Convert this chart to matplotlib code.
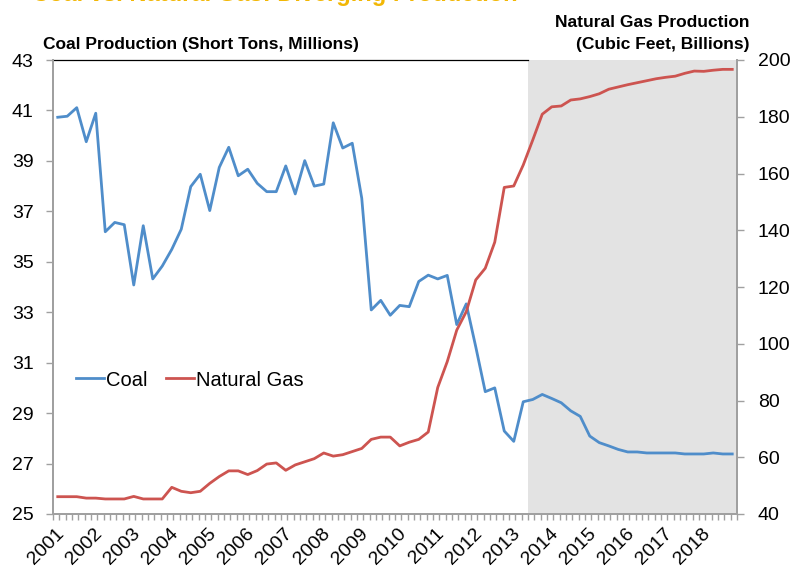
import matplotlib
matplotlib.use("Agg")
import matplotlib.pyplot as plt
import matplotlib.transforms as mtransforms
import numpy as np

plt.rcParams['font.family'] = ['Liberation Sans', 'DejaVu Sans']

years = [str(y) for y in range(2001, 2019)]
coal = [40.73, 40.77, 41.11, 39.76, 40.89, 36.19, 36.56, 36.47, 34.08, 36.43,
        34.32, 34.83, 35.49, 36.29, 37.98, 38.47, 37.03, 38.74, 39.54, 38.41,
        38.67, 38.11, 37.78, 37.78, 38.80, 37.69, 39.01, 38.00, 38.08, 40.51,
        39.51, 39.70, 37.52, 33.09, 33.47, 32.88, 33.27, 33.22, 34.22, 34.47,
        34.32, 34.46, 32.51, 33.33, 31.63, 29.85, 30.00, 28.29, 27.88, 29.45,
        29.54, 29.74, 29.58, 29.41, 29.09, 28.87, 28.09, 27.83, 27.70, 27.56,
        27.46, 27.46, 27.42, 27.42, 27.42, 27.42, 27.38, 27.38, 27.38, 27.42,
        27.38, 27.38]
gas = [46.1, 46.1, 46.1, 45.6, 45.6, 45.3, 45.3, 45.3, 46.2, 45.3,
       45.3, 45.3, 49.4, 48.0, 47.5, 48.0, 50.8, 53.2, 55.2, 55.2,
       53.9, 55.3, 57.6, 58.0, 55.4, 57.3, 58.4, 59.5, 61.5, 60.4,
       60.9, 62.0, 63.1, 66.3, 67.1, 67.1, 64.0, 65.3, 66.3, 68.9,
       84.6, 93.7, 104.8, 111.3, 122.5, 126.6, 135.8, 155.1, 155.6, 163.0,
       171.8, 180.9, 183.5, 183.8, 185.9, 186.3, 187.1, 188.1, 189.7, 190.5,
       191.3, 192.0, 192.7, 193.4, 193.9, 194.3, 195.3, 196.1, 196.0, 196.4,
       196.7, 196.7]
forecast_start = 50  # first shaded quarter (2013 Q3)

BLUE = '#4F8DCA'
RED = '#CD5450'
GRAY = '#A0A0A0'

W, H = 804, 577
fig = plt.figure(figsize=(W / 100, H / 100), dpi=100)
ax = fig.add_axes([53 / W, 1 - 514 / H, (737 - 53) / W, (514 - 60) / H])
ax2 = ax.twinx()

n = len(coal)
x = np.arange(n)
ax.set_xlim(-0.5, n - 0.5)
ax.set_ylim(25, 43)
ax2.set_ylim(40, 200)

ax.axvspan(forecast_start - 0.5, n - 0.5, color='#E3E3E3', zorder=0, lw=0)

l1, = ax.plot(x, coal, color=BLUE, lw=2.0, label='Coal', zorder=3)
l2, = ax2.plot(x, gas, color=RED, lw=2.0, label='Natural Gas', zorder=3)

ax.set_yticks(np.arange(25, 44, 2))
ax2.set_yticks(np.arange(40, 201, 20))

for a in (ax, ax2):
    for s in a.spines.values():
        s.set_color(GRAY)
        s.set_linewidth(1.3)
    a.spines['top'].set_visible(False)
    a.tick_params(axis='y', colors=GRAY, labelcolor='black', labelsize=14,
                  length=5, width=1.0, direction='out')
ax.tick_params(axis='y', pad=9)
ax2.tick_params(axis='y', pad=10)

# top border line (white region only)
ax.plot([-0.5, forecast_start - 0.5], [43, 43], color='black', lw=0.9,
        clip_on=False, zorder=1)

# x ticks
ax.set_xticks([4 * i for i in range(len(years))])
ax.set_xticklabels(years, rotation=45, ha='right', rotation_mode='anchor',
                   fontsize=14)
ax.tick_params(axis='x', length=0, pad=8)
minor = -0.5 + np.arange(0, 109) * (2 / 3)
ax.set_xticks(minor, minor=True)
ax.tick_params(axis='x', which='minor', length=4, width=1.0, colors=GRAY,
               direction='out')
offset = mtransforms.ScaledTranslation(-2 / 100, 0, fig.dpi_scale_trans)
for lab in ax.get_xticklabels():
    lab.set_transform(lab.get_transform() + offset)

ax.legend(handles=[l1, l2], loc='center', bbox_to_anchor=(190 / W, 1 - 380 / H),
          bbox_transform=fig.transFigure, frameon=False, ncol=2, fontsize=14.5,
          handlelength=1.4, handletextpad=0.1, columnspacing=0.9,
          borderpad=0)

fig.text(43 / W, 1 - 49 / H, 'Coal Production (Short Tons, Millions)',
         fontsize=12.5, fontweight='bold', ha='left', va='baseline')
fig.text(750 / W, 1 - 27 / H, 'Natural Gas Production',
         fontsize=12.5, fontweight='bold', ha='right', va='baseline')
fig.text(750 / W, 1 - 49 / H, '(Cubic Feet, Billions)',
         fontsize=12.5, fontweight='bold', ha='right', va='baseline')
fig.text(275 / W, 1 - 1.0 / H, 'Coal vs. Natural Gas: Diverging Production',
         fontsize=17, fontweight='bold', color='#F2B705', ha='center',
         va='baseline')

fig.savefig('out.png', dpi=100)
